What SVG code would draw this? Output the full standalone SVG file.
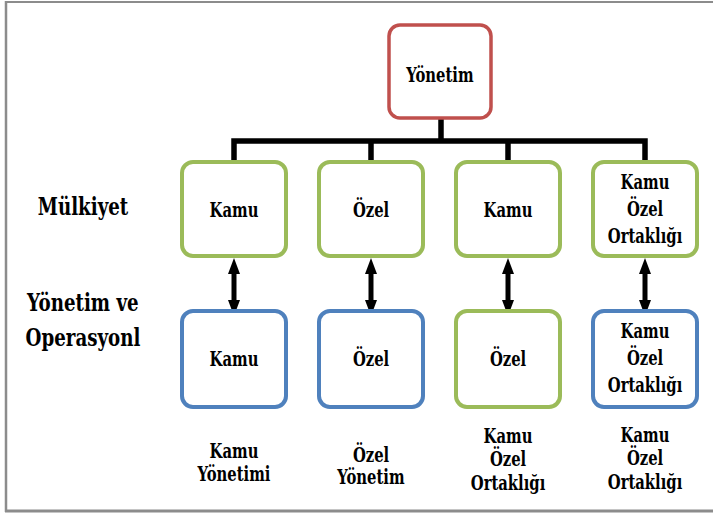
<svg xmlns="http://www.w3.org/2000/svg" width="713" height="513" viewBox="0 0 713 513">
  <style>
    .box { fill: #ffffff; stroke-width: 4; }
    .root { stroke: #c0504d; stroke-width: 3.5; }
    .green { stroke: #9bbb59; }
    .blue { stroke: #4f81bd; }
    .lbl text { font-family: "DejaVu Serif", "Liberation Serif", serif; font-weight: bold; fill: #000000; text-anchor: middle;
           transform-box: fill-box; transform-origin: center; }
    .t { font-size: 20px; transform: scaleX(0.74); }
    .side { font-size: 24px; transform: scaleX(0.76); }
    .tree { fill: none; stroke: #000000; stroke-width: 5.5; stroke-linejoin: miter; }
    .link { stroke: #000000; stroke-width: 5; marker-start: url(#head); marker-end: url(#head); }
    .frame { stroke: #8c8c8c; fill: none; }
  </style>
  <defs>
    <marker id="head" viewBox="0 0 16 12" markerUnits="userSpaceOnUse" markerWidth="16" markerHeight="12" refX="6" refY="6" orient="auto-start-reverse">
      <path d="M0,0 L16,6 L0,12 z" fill="#000000"/>
    </marker>
  </defs>

  <!-- page frame -->
  <g id="frame">
    <line class="frame" x1="5" y1="2" x2="713" y2="2" stroke-width="2" stroke="#a6a6a6"/>
    <line class="frame" x1="6" y1="1" x2="6" y2="512" stroke-width="2.5"/>
    <line class="frame" x1="5" y1="511" x2="713" y2="511" stroke-width="3"/>
  </g>

  <!-- tree lines and ownership/management arrows -->
  <g id="connectors">
    <path class="tree" d="M441,118 V141"/>
    <path class="tree" d="M234,161 V141 H645 V161"/>
    <path class="tree" d="M371,141 V161"/>
    <path class="tree" d="M508,141 V161"/>
    <line class="link" x1="234" y1="268" x2="234" y2="306"/>
    <line class="link" x1="371" y1="268" x2="371" y2="306"/>
    <line class="link" x1="508" y1="268" x2="508" y2="306"/>
    <line class="link" x1="645" y1="268" x2="645" y2="306"/>
  </g>

  <g class="lbl">
  <g id="root">
    <rect class="box root" x="389" y="25" width="102" height="93" rx="11"/>
    <text class="t" x="440" y="82">Yönetim</text>
  </g>

  <!-- row labels -->
  <g id="label-mulkiyet">
    <text class="side" x="83" y="215">Mülkiyet</text>
  </g>
  <g id="label-yonetim">
    <text class="side" x="83" y="311">Yönetim ve</text>
    <text class="side" x="83" y="346">Operasyonl</text>
  </g>

  <!-- ownership row -->
  <g id="own-1">
    <rect class="box green" x="182" y="162" width="104" height="94" rx="11"/>
    <text class="t" x="234" y="217">Kamu</text>
  </g>
  <g id="own-2">
    <rect class="box green" x="319" y="162" width="104" height="94" rx="11"/>
    <text class="t" x="371" y="217">Özel</text>
  </g>
  <g id="own-3">
    <rect class="box green" x="456" y="162" width="104" height="94" rx="11"/>
    <text class="t" x="508" y="217">Kamu</text>
  </g>
  <g id="own-4">
    <rect class="box green" x="593" y="162" width="104" height="94" rx="11"/>
    <text class="t" x="645" y="189">Kamu</text>
    <text class="t" x="645" y="216">Özel</text>
    <text class="t" x="645" y="243">Ortaklığı</text>
  </g>

  <!-- management / operation row -->
  <g id="op-1">
    <rect class="box blue" x="182" y="311" width="104" height="96" rx="11"/>
    <text class="t" x="234" y="366">Kamu</text>
  </g>
  <g id="op-2">
    <rect class="box blue" x="319" y="311" width="104" height="96" rx="11"/>
    <text class="t" x="371" y="366">Özel</text>
  </g>
  <g id="op-3">
    <rect class="box green" x="456" y="311" width="104" height="96" rx="11"/>
    <text class="t" x="508" y="366">Özel</text>
  </g>
  <g id="op-4">
    <rect class="box blue" x="593" y="311" width="104" height="96" rx="11"/>
    <text class="t" x="645" y="338">Kamu</text>
    <text class="t" x="645" y="365">Özel</text>
    <text class="t" x="645" y="392">Ortaklığı</text>
  </g>

  <!-- model captions -->
  <g id="caption-1">
    <text class="t" x="234" y="458">Kamu</text>
    <text class="t" x="234" y="481">Yönetimi</text>
  </g>
  <g id="caption-2">
    <text class="t" x="371" y="462">Özel</text>
    <text class="t" x="371" y="484">Yönetim</text>
  </g>
  <g id="caption-3">
    <text class="t" x="508" y="443">Kamu</text>
    <text class="t" x="508" y="466">Özel</text>
    <text class="t" x="508" y="490">Ortaklığı</text>
  </g>
  <g id="caption-4">
    <text class="t" x="645" y="442">Kamu</text>
    <text class="t" x="645" y="465">Özel</text>
    <text class="t" x="645" y="489">Ortaklığı</text>
  </g>
  </g>
</svg>
